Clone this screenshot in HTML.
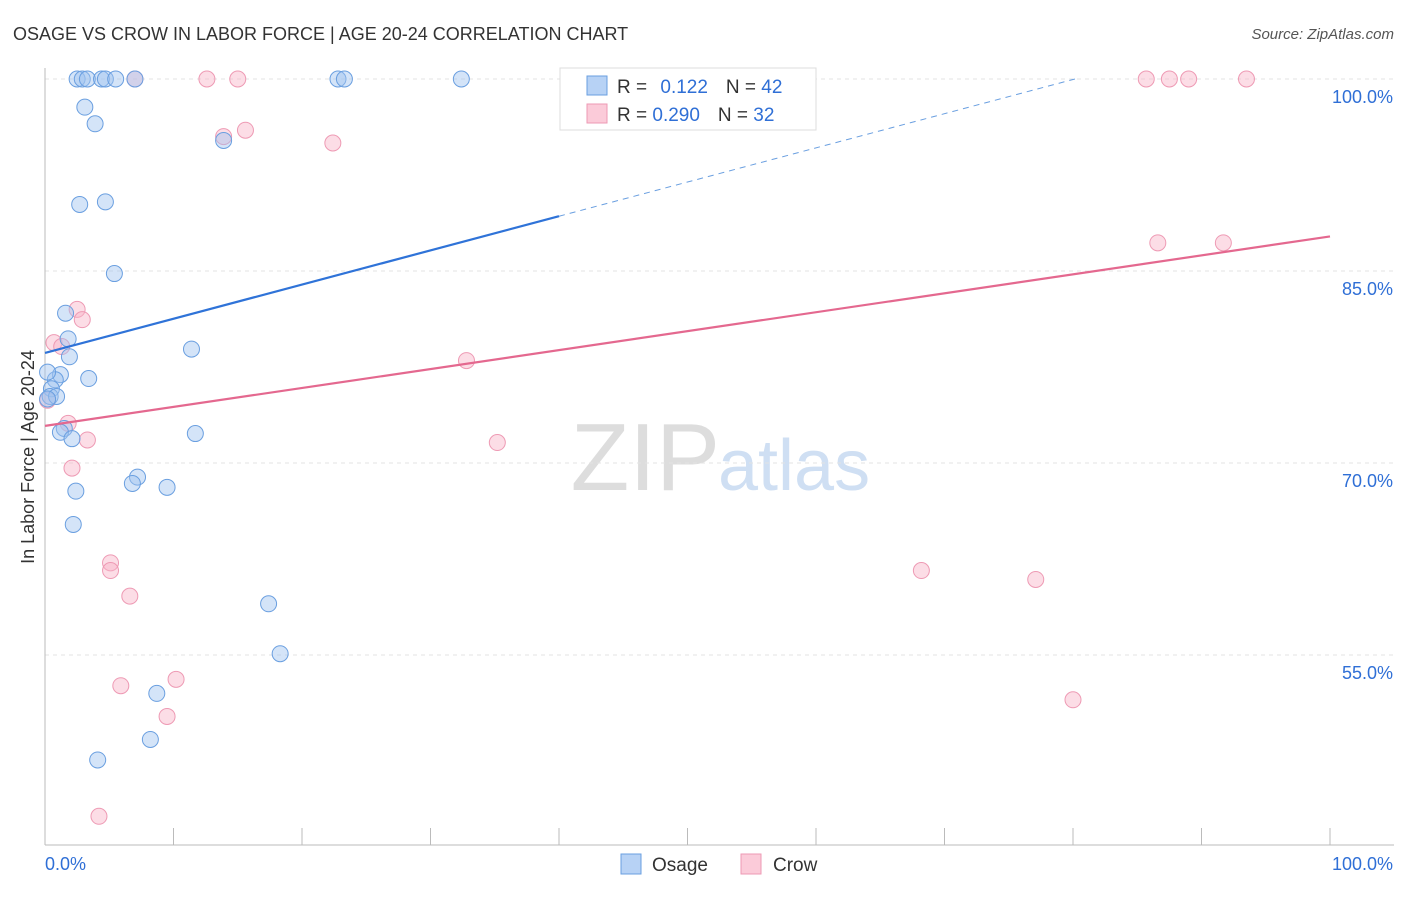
<!DOCTYPE html>
<html><head><meta charset="utf-8"><style>
body{margin:0;background:#fff;font-family:"Liberation Sans",sans-serif}
svg text{font-family:"Liberation Sans",sans-serif}
</style></head><body>
<svg id="chart" width="1406" height="892" viewBox="0 0 1406 892" xmlns="http://www.w3.org/2000/svg">
<text x="13" y="40" font-size="18" fill="#333">OSAGE VS CROW IN LABOR FORCE | AGE 20-24 CORRELATION CHART</text>
<text x="1394" y="39" font-size="15" fill="#555" font-style="italic" text-anchor="end">Source: ZipAtlas.com</text>
<text x="720" y="490" font-size="96" fill="#ddd" text-anchor="end" font-family="Liberation Serif">ZIP</text>
<text x="718" y="490" font-size="72" fill="#cfdff3">atlas</text>
<g id="grid"></g><g id="axes"></g><g id="pts"></g><g id="lines"></g>
<text transform="translate(34,457) rotate(-90)" font-size="18" fill="#333" text-anchor="middle">In Labor Force | Age 20-24</text>
<g>
<rect x="560" y="68" width="256" height="62" fill="#fff" stroke="#ddd"/>
<rect x="587" y="76" width="20" height="19" fill="#b7d2f5" stroke="#6a9fe0"/>
<rect x="587" y="104" width="20" height="19" fill="#fbcbd9" stroke="#ee9ab4"/>
<text x="617" y="93" font-size="19" fill="#333">R = <tspan fill="#2f6fd6" dx="8">0.122</tspan><tspan dx="18" fill="#333">N = </tspan><tspan fill="#2f6fd6">42</tspan></text>
<text x="617" y="121" font-size="19" fill="#333">R = <tspan fill="#2f6fd6">0.290</tspan><tspan dx="18" fill="#333">N = </tspan><tspan fill="#2f6fd6">32</tspan></text>
</g>
<g>
<rect x="621" y="854" width="20" height="20" fill="#b7d2f5" stroke="#6a9fe0"/>
<text x="652" y="871" font-size="19" fill="#333">Osage</text>
<rect x="741" y="854" width="20" height="20" fill="#fbcbd9" stroke="#ee9ab4"/>
<text x="773" y="871" font-size="19" fill="#333">Crow</text>
</g>
</svg>
<script>
const yTicks=[55,70,85,100];
const xTickLabels=["0.0%","100.0%"];
const osageX=[2.5,2.9,3.3,4.4,4.7,5.5,7.0,22.8,23.3,32.4,3.1,3.9,13.9,2.7,4.7,5.4,1.6,1.8,11.4,1.9,1.2,3.4,0.8,0.5,0.4,0.9,1.5,1.2,2.1,11.7,7.2,6.8,9.5,2.4,2.2,17.4,18.3,8.7,8.2,4.1,0.2,0.2];
const osageY=[100,100,100,100,100,100,100,100,100,100,97.8,96.5,95.2,90.2,90.4,84.8,81.7,79.7,78.9,78.3,76.9,76.6,76.5,75.8,75.2,75.2,72.7,72.4,71.9,72.3,68.9,68.4,68.1,67.8,65.2,59.0,55.1,52.0,48.4,46.8,77.1,75.0];
const crowX=[7.0,12.6,15.0,85.7,87.5,89.0,93.5,13.9,15.6,22.4,86.6,91.7,2.5,2.9,0.7,1.3,32.8,0.2,1.8,3.3,35.2,2.1,5.1,5.1,6.6,68.2,77.1,5.9,10.2,9.5,80.0,4.2];
const crowY=[100,100,100,100,100,100,100,95.5,96.0,95.0,87.2,87.2,82.0,81.2,79.4,79.1,78.0,74.9,73.1,71.8,71.6,69.6,62.2,61.6,59.6,61.6,60.9,52.6,53.1,50.2,51.5,42.4];
const osageTrend=[78.6,0.267];
const crowTrend=[72.9,0.148];
const NS="http://www.w3.org/2000/svg";
const X=v=>45+v*12.85, Y=v=>79+(100-v)*12.8;
function mk(tag,attrs,parent){const e=document.createElementNS(NS,tag);for(const k in attrs)e.setAttribute(k,attrs[k]);document.getElementById(parent).appendChild(e);return e;}
yTicks.forEach(t=>{
 const l=mk('line',{x1:45,x2:1394,y1:Y(t),y2:Y(t),stroke:'#e3e3e3','stroke-dasharray':'4,4'},'grid');
 
 
 const tx=mk('text',{x:1393,y:Y(t)+24,'font-size':18,fill:'#2f6fd6','text-anchor':'end'},'grid');
 tx.textContent=t.toFixed(1)+'%';
 
 
});
mk('line',{x1:45,x2:45,y1:68,y2:845,stroke:'#bbb'},'axes');
mk('line',{x1:45,x2:1394,y1:845,y2:845,stroke:'#bbb'},'axes');
for(let i=0;i<=10;i++){mk('line',{x1:X(i*10),x2:X(i*10),y1:828,y2:845,stroke:'#bbb'},'axes');}
const a=mk('text',{x:45,y:870,'font-size':18,fill:'#2f6fd6'},'axes');a.textContent=xTickLabels[0];


const b=mk('text',{x:1393,y:870,'font-size':18,fill:'#2f6fd6','text-anchor':'end'},'axes');b.textContent=xTickLabels[1];


crowX.forEach((x,i)=>{const c=mk('circle',{cx:X(x),cy:Y(crowY[i]),r:8,fill:'rgba(248,180,200,0.45)',stroke:'#ee9ab4','stroke-width':1},'pts');
 
 });
osageX.forEach((x,i)=>{const c=mk('circle',{cx:X(x),cy:Y(osageY[i]),r:8,fill:'rgba(160,195,240,0.45)',stroke:'#6a9fe0','stroke-width':1},'pts');
 
 });
const ot=v=>osageTrend[0]+osageTrend[1]*v;
let l1=mk('line',{x1:X(0),y1:Y(ot(0)),x2:X(40),y2:Y(ot(40)),stroke:'#2f73d8','stroke-width':2.2},'lines');


let xe=(100-osageTrend[0])/osageTrend[1];
let l2=mk('line',{x1:X(40),y1:Y(ot(40)),x2:X(xe),y2:Y(100),stroke:'#6a9fe0','stroke-width':1,'stroke-dasharray':'6,5'},'lines');


const ct=v=>crowTrend[0]+crowTrend[1]*v;
let l3=mk('line',{x1:X(0),y1:Y(ct(0)),x2:X(100),y2:Y(ct(100)),stroke:'#e4688f','stroke-width':2.2},'lines');


</script>
</body></html>
